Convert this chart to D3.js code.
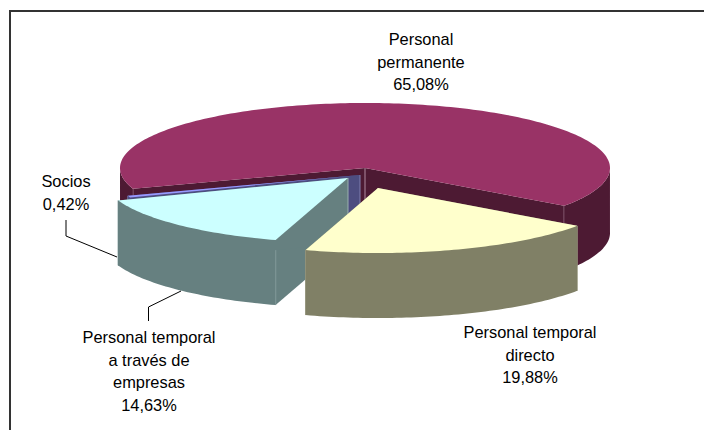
<!DOCTYPE html>
<html>
<head>
<meta charset="utf-8">
<script src="https://cdn.jsdelivr.net/npm/d3@7"></script>
<style>
  html, body { margin: 0; padding: 0; background: #fff; }
  svg { display: block; }
  text { font-family: "Liberation Sans", Arial, sans-serif; font-size: 16.4px; fill: #000; }
</style>
</head>
<body>
<div id="chart"></div>
<script>
var categories = ["Personal permanente", "Personal temporal directo", "Personal temporal a través de empresas", "Socios"];
var values     = [65.08, 19.88, 14.63, 0.42];
var valueLabels = ["65,08%", "19,88%", "14,63%", "0,42%"];

var topColors  = ["#993366", "#ffffcc", "#ccffff", "#9999ff"];
var sideColors = ["#4d1a33", "#808066", "#668080", "#4d4d80"];
var edgeColors = ["#b08aa0", "#a0a088", "#9ab0b0", "#8080b0"];

// layout of the exploded pie, one apex per slice
var rx = 245, ry = 65, depth = 65;
var apexes = [[365, 168], [378, 188], [348, 178], [360, 175]];

var width = 704, height = 430;

var svg = d3.select("#chart").append("svg")
  .attr("width", width)
  .attr("height", height);

// chart frame, cropped at the right and bottom of the picture
svg.append("path")
  .attr("d", d3.line()([[10, height], [10, 11], [width, 11]]))
  .attr("fill", "none")
  .attr("stroke", "#333")
  .attr("stroke-width", 2);

// slices run clockwise, permanent staff starts just past Socios
var pie = d3.pie().sort(null).startAngle(4.387).endAngle(4.387 + 2 * Math.PI);
var arcs = pie(values);

var line = d3.line();

function project(i, t, down) {
  return [
    apexes[i][0] + rx * Math.sin(t),
    apexes[i][1] - ry * Math.cos(t) + (down || 0)
  ];
}

function rim(i, a0, a1, down) {
  var pts = [];
  var steps = Math.max(2, Math.ceil((a1 - a0) / 0.02));
  for (var k = 0; k <= steps; k++) {
    pts.push(project(i, a0 + (a1 - a0) * k / steps, down));
  }
  return pts;
}

function apex(i, down) {
  return [apexes[i][0], apexes[i][1] + (down || 0)];
}

function wall(i, t) {
  return [apex(i), project(i, t), project(i, t, depth), apex(i, depth)];
}

function drawSlice(i) {
  var a = arcs[i];
  var g = svg.append("g").attr("class", "slice");

  // flat walls of the cut
  [a.startAngle, a.endAngle].forEach(function(t) {
    g.append("path")
      .attr("d", line(wall(i, t)) + "Z")
      .attr("fill", sideColors[i]);
    g.append("line")
      .attr("x1", project(i, t)[0]).attr("y1", project(i, t)[1])
      .attr("x2", project(i, t)[0]).attr("y2", project(i, t, depth)[1])
      .attr("stroke", edgeColors[i]);
  });

  // outer curved side, only the part facing the viewer
  var steps = rim(i, a.startAngle, a.endAngle).length - 1;
  var front = [];
  for (var k = 0; k <= steps; k++) {
    var t = a.startAngle + (a.endAngle - a.startAngle) * k / steps;
    if (Math.cos(t) <= 0.02) front.push(t);
  }
  // split where the visible part is broken by the back of the ellipse
  var runs = [], run = [];
  front.forEach(function(t, n) {
    if (n && t - front[n - 1] > 0.1) { runs.push(run); run = []; }
    run.push(t);
  });
  if (run.length) runs.push(run);
  runs.forEach(function(r) {
    var upper = r.map(function(t) { return project(i, t); });
    var lower = r.map(function(t) { return project(i, t, depth); }).reverse();
    g.append("path")
      .attr("d", line(upper.concat(lower)) + "Z")
      .attr("fill", sideColors[i]);
  });

  // apex edge
  g.append("line")
    .attr("x1", apex(i)[0]).attr("y1", apex(i)[1])
    .attr("x2", apex(i)[0]).attr("y2", apex(i, depth)[1])
    .attr("stroke", edgeColors[i]);

  // top face
  var top = [apex(i)].concat(rim(i, a.startAngle, a.endAngle));
  g.append("path")
    .attr("d", line(top) + "Z")
    .attr("fill", topColors[i]);
}

// back to front
[0, 3, 2, 1].forEach(drawSlice);

// leader lines
svg.append("path")
  .attr("d", line([[66, 220], [66, 236], [117, 257]]))
  .attr("fill", "none").attr("stroke", "#000");
svg.append("path")
  .attr("d", line([[181, 291], [148.5, 307], [148.5, 321]]))
  .attr("fill", "none").attr("stroke", "#000");

// labels
var labelLines = [
  ["Personal", "permanente", valueLabels[0]],
  ["Personal temporal", "directo", valueLabels[1]],
  ["Personal temporal", "a través de", "empresas", valueLabels[2]],
  ["Socios", valueLabels[3]]
];
var labelAnchors = [[421, 45], [530, 338], [149, 343], [66, 187]];

labelLines.forEach(function(rows, i) {
  var label = svg.append("text")
    .attr("text-anchor", "middle")
    .attr("aria-label", categories[i] + " " + valueLabels[i]);
  rows.forEach(function(row, j) {
    label.append("tspan")
      .attr("x", labelAnchors[i][0])
      .attr("y", labelAnchors[i][1] + j * 22.5)
      .text(row);
  });
});
</script>
</body>
</html>
